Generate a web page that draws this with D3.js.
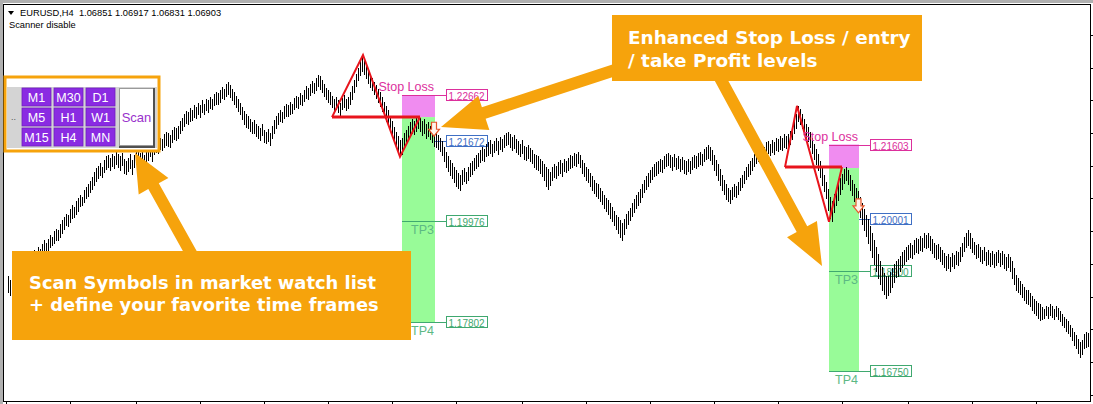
<!DOCTYPE html>
<html><head><meta charset="utf-8">
<script src="https://cdn.jsdelivr.net/npm/d3@7"></script>
<style>body{margin:0;background:#fff}svg{display:block}text{white-space:pre}</style>
</head><body><svg id="c" width="1093" height="404"></svg>
<script>
// ---- DATA ----
const symbolInfo = "EURUSD,H4  1.06851 1.06917 1.06831 1.06903";
const statusText = "Scanner disable";
// H4 bars: [high, low]
const bars = [
[1.1878,1.1845],[1.1870,1.1838],[1.1885,1.1850],[1.1892,1.1862],[1.1890,1.1866],
[1.1898,1.1870],[1.1905,1.1876],[1.1900,1.1872],[1.1912,1.1884],[1.1918,1.1890],
[1.1922,1.1895],[1.1930,1.1902],[1.1926,1.1898],[1.1935,1.1908],[1.1932,1.1910],
[1.1940,1.1915],[1.1936,1.1912],[1.1948,1.1920],[1.1955,1.1928],[1.1950,1.1930],
[1.1958,1.1934],[1.1966,1.1940],[1.1962,1.1945],[1.1975,1.1950],[1.1980,1.1956],
[1.1978,1.1955],[1.1990,1.1962],[1.1998,1.1970],[1.2005,1.1980],[1.2012,1.1988],
[1.2010,1.1985],[1.2022,1.1995],[1.2030,1.2002],[1.2026,1.2006],[1.2040,1.2012],
[1.2045,1.2018],[1.2052,1.2028],[1.2048,1.2030],[1.2062,1.2038],[1.2070,1.2045],
[1.2075,1.2050],[1.2082,1.2058],[1.2090,1.2066],[1.2102,1.2074],[1.2110,1.2082],
[1.2115,1.2088],[1.2120,1.2095],[1.2112,1.2090],[1.2128,1.2102],[1.2135,1.2108],
[1.2138,1.2112],[1.2132,1.2106],[1.2140,1.2115],[1.2135,1.2110],[1.2145,1.2118],
[1.2140,1.2112],[1.2135,1.2105],[1.2142,1.2116],[1.2130,1.2100],[1.2125,1.2098],
[1.2132,1.2104],[1.2140,1.2110],[1.2128,1.2098],[1.2138,1.2112],[1.2145,1.2118],
[1.2148,1.2120],[1.2142,1.2115],[1.2150,1.2122],[1.2138,1.2110],[1.2152,1.2126],
[1.2155,1.2128],[1.2160,1.2135],[1.2150,1.2126],[1.2165,1.2140],[1.2170,1.2145],
[1.2168,1.2142],[1.2175,1.2150],[1.2172,1.2148],[1.2182,1.2156],[1.2188,1.2160],
[1.2185,1.2158],[1.2180,1.2155],[1.2192,1.2166],[1.2198,1.2172],[1.2195,1.2170],
[1.2200,1.2175],[1.2210,1.2184],[1.2218,1.2192],[1.2225,1.2200],[1.2232,1.2206],
[1.2230,1.2205],[1.2238,1.2210],[1.2235,1.2212],[1.2245,1.2220],[1.2240,1.2218],
[1.2250,1.2225],[1.2245,1.2220],[1.2255,1.2230],[1.2248,1.2226],[1.2258,1.2234],
[1.2255,1.2230],[1.2262,1.2238],[1.2258,1.2236],[1.2268,1.2244],[1.2272,1.2248],
[1.2270,1.2246],[1.2278,1.2252],[1.2284,1.2260],[1.2280,1.2258],[1.2290,1.2265],
[1.2295,1.2268],[1.2288,1.2262],[1.2280,1.2255],[1.2272,1.2248],[1.2265,1.2240],
[1.2258,1.2232],[1.2250,1.2225],[1.2240,1.2215],[1.2232,1.2205],[1.2225,1.2198],
[1.2222,1.2196],[1.2215,1.2190],[1.2208,1.2184],[1.2212,1.2186],[1.2205,1.2178],
[1.2200,1.2175],[1.2195,1.2170],[1.2205,1.2180],[1.2192,1.2166],[1.2188,1.2164],
[1.2194,1.2168],[1.2185,1.2160],[1.2200,1.2175],[1.2212,1.2186],[1.2222,1.2196],
[1.2228,1.2205],[1.2235,1.2210],[1.2230,1.2208],[1.2242,1.2216],[1.2248,1.2222],
[1.2245,1.2222],[1.2252,1.2226],[1.2248,1.2228],[1.2260,1.2236],[1.2265,1.2240],
[1.2262,1.2238],[1.2270,1.2246],[1.2266,1.2244],[1.2278,1.2254],[1.2285,1.2260],
[1.2282,1.2258],[1.2290,1.2266],[1.2296,1.2272],[1.2292,1.2270],[1.2302,1.2278],
[1.2310,1.2286],[1.2306,1.2280],[1.2298,1.2272],[1.2290,1.2265],[1.2282,1.2258],
[1.2278,1.2252],[1.2272,1.2248],[1.2265,1.2240],[1.2258,1.2232],[1.2262,1.2236],
[1.2255,1.2230],[1.2250,1.2222],[1.2260,1.2236],[1.2266,1.2240],[1.2258,1.2234],
[1.2262,1.2238],[1.2272,1.2248],[1.2285,1.2258],[1.2298,1.2272],[1.2312,1.2285],
[1.2325,1.2298],[1.2338,1.2310],[1.2348,1.2318],[1.2340,1.2312],[1.2330,1.2302],
[1.2320,1.2292],[1.2310,1.2284],[1.2302,1.2276],[1.2295,1.2268],[1.2288,1.2260],
[1.2280,1.2252],[1.2272,1.2242],[1.2262,1.2232],[1.2252,1.2220],[1.2242,1.2210],
[1.2235,1.2202],[1.2222,1.2190],[1.2210,1.2178],[1.2198,1.2165],[1.2188,1.2155],
[1.2178,1.2145],[1.2170,1.2136],[1.2175,1.2140],[1.2185,1.2155],[1.2192,1.2162],
[1.2200,1.2170],[1.2208,1.2178],[1.2215,1.2186],[1.2210,1.2182],[1.2220,1.2190],
[1.2222,1.2195],[1.2218,1.2190],[1.2210,1.2180],[1.2215,1.2186],[1.2205,1.2175],
[1.2208,1.2178],[1.2200,1.2172],[1.2195,1.2165],[1.2188,1.2158],[1.2185,1.2155],
[1.2180,1.2150],[1.2175,1.2146],[1.2168,1.2138],[1.2155,1.2125],[1.2145,1.2112],
[1.2135,1.2104],[1.2128,1.2096],[1.2120,1.2088],[1.2112,1.2080],[1.2105,1.2072],
[1.2100,1.2068],[1.2095,1.2064],[1.2105,1.2076],[1.2110,1.2082],[1.2102,1.2078],
[1.2112,1.2085],[1.2120,1.2092],[1.2125,1.2098],[1.2132,1.2105],[1.2138,1.2110],
[1.2142,1.2115],[1.2148,1.2122],[1.2155,1.2128],[1.2150,1.2126],[1.2162,1.2135],
[1.2165,1.2138],[1.2170,1.2142],[1.2162,1.2136],[1.2168,1.2145],[1.2175,1.2148],
[1.2168,1.2140],[1.2176,1.2150],[1.2172,1.2146],[1.2180,1.2155],[1.2185,1.2160],
[1.2188,1.2162],[1.2182,1.2155],[1.2176,1.2148],[1.2180,1.2152],[1.2172,1.2145],
[1.2168,1.2140],[1.2162,1.2136],[1.2170,1.2142],[1.2158,1.2130],[1.2155,1.2128],
[1.2160,1.2132],[1.2152,1.2125],[1.2148,1.2120],[1.2140,1.2112],[1.2138,1.2108],
[1.2135,1.2106],[1.2130,1.2100],[1.2125,1.2094],[1.2118,1.2085],[1.2112,1.2072],
[1.2108,1.2065],[1.2102,1.2074],[1.2112,1.2085],[1.2118,1.2090],[1.2115,1.2088],
[1.2122,1.2095],[1.2128,1.2100],[1.2120,1.2094],[1.2130,1.2104],[1.2126,1.2102],
[1.2132,1.2106],[1.2138,1.2110],[1.2135,1.2112],[1.2142,1.2116],[1.2140,1.2115],
[1.2145,1.2120],[1.2138,1.2112],[1.2128,1.2100],[1.2120,1.2092],[1.2112,1.2085],
[1.2108,1.2080],[1.2100,1.2072],[1.2092,1.2064],[1.2085,1.2056],[1.2078,1.2050],
[1.2075,1.2046],[1.2068,1.2040],[1.2060,1.2032],[1.2052,1.2024],[1.2046,1.2018],
[1.2042,1.2012],[1.2035,1.2004],[1.2026,1.1996],[1.2018,1.1988],[1.2010,1.1980],
[1.2005,1.1972],[1.1998,1.1962],[1.1992,1.1956],[1.2000,1.1968],[1.2012,1.1982],
[1.2018,1.1990],[1.2025,1.1998],[1.2035,1.2008],[1.2044,1.2016],[1.2052,1.2025],
[1.2058,1.2030],[1.2066,1.2038],[1.2075,1.2048],[1.2085,1.2058],[1.2094,1.2066],
[1.2100,1.2072],[1.2106,1.2080],[1.2112,1.2086],[1.2118,1.2092],[1.2122,1.2096],
[1.2125,1.2100],[1.2130,1.2104],[1.2128,1.2102],[1.2136,1.2110],[1.2140,1.2115],
[1.2142,1.2116],[1.2138,1.2112],[1.2134,1.2106],[1.2140,1.2114],[1.2132,1.2108],
[1.2136,1.2110],[1.2130,1.2104],[1.2134,1.2108],[1.2128,1.2100],[1.2124,1.2098],
[1.2130,1.2104],[1.2126,1.2100],[1.2134,1.2108],[1.2138,1.2112],[1.2135,1.2110],
[1.2142,1.2115],[1.2145,1.2118],[1.2140,1.2116],[1.2150,1.2124],[1.2155,1.2130],
[1.2160,1.2132],[1.2156,1.2128],[1.2148,1.2118],[1.2138,1.2106],[1.2128,1.2095],
[1.2118,1.2085],[1.2108,1.2074],[1.2096,1.2064],[1.2085,1.2054],[1.2075,1.2044],
[1.2068,1.2040],[1.2062,1.2036],[1.2070,1.2044],[1.2076,1.2050],[1.2072,1.2048],
[1.2080,1.2055],[1.2088,1.2062],[1.2096,1.2070],[1.2104,1.2078],[1.2112,1.2086],
[1.2118,1.2092],[1.2124,1.2098],[1.2132,1.2106],[1.2140,1.2114],[1.2146,1.2120],
[1.2150,1.2125],[1.2156,1.2130],[1.2160,1.2134],[1.2155,1.2132],[1.2165,1.2140],
[1.2168,1.2142],[1.2162,1.2138],[1.2170,1.2145],[1.2166,1.2140],[1.2174,1.2148],
[1.2172,1.2146],[1.2178,1.2150],[1.2175,1.2148],[1.2182,1.2155],[1.2178,1.2152],
[1.2182,1.2156],[1.2190,1.2162],[1.2200,1.2172],[1.2212,1.2185],[1.2225,1.2196],
[1.2243,1.2210],[1.2236,1.2205],[1.2225,1.2195],[1.2215,1.2185],[1.2205,1.2175],
[1.2198,1.2168],[1.2188,1.2156],[1.2175,1.2142],[1.2162,1.2130],[1.2150,1.2118],
[1.2140,1.2105],[1.2125,1.2090],[1.2110,1.2074],[1.2095,1.2060],[1.2080,1.2045],
[1.2065,1.2020],[1.2048,1.2002],[1.2040,1.1996],[1.2055,1.2015],[1.2068,1.2030],
[1.2078,1.2042],[1.2088,1.2055],[1.2098,1.2066],[1.2108,1.2078],[1.2112,1.2085],
[1.2105,1.2075],[1.2095,1.2064],[1.2085,1.2052],[1.2075,1.2040],[1.2068,1.2030],
[1.2060,1.2018],[1.2048,1.2005],[1.2035,1.1990],[1.2022,1.1978],[1.2010,1.1965],
[1.2000,1.1950],[1.1985,1.1935],[1.1970,1.1920],[1.1955,1.1905],[1.1940,1.1890],
[1.1925,1.1875],[1.1910,1.1862],[1.1898,1.1850],[1.1885,1.1840],[1.1878,1.1832],
[1.1880,1.1838],[1.1888,1.1845],[1.1895,1.1855],[1.1905,1.1866],[1.1912,1.1876],
[1.1915,1.1880],[1.1922,1.1890],[1.1930,1.1898],[1.1935,1.1905],[1.1940,1.1912],
[1.1945,1.1915],[1.1950,1.1920],[1.1946,1.1918],[1.1955,1.1925],[1.1960,1.1930],
[1.1958,1.1928],[1.1964,1.1934],[1.1960,1.1932],[1.1970,1.1940],[1.1966,1.1938],
[1.1972,1.1942],[1.1965,1.1935],[1.1958,1.1928],[1.1950,1.1920],[1.1945,1.1915],
[1.1948,1.1918],[1.1940,1.1910],[1.1935,1.1905],[1.1928,1.1898],[1.1922,1.1892],
[1.1925,1.1895],[1.1920,1.1890],[1.1928,1.1900],[1.1924,1.1896],[1.1932,1.1904],
[1.1930,1.1902],[1.1940,1.1912],[1.1950,1.1922],[1.1962,1.1932],[1.1972,1.1942],
[1.1978,1.1945],[1.1970,1.1938],[1.1960,1.1930],[1.1952,1.1925],[1.1945,1.1918],
[1.1948,1.1920],[1.1940,1.1912],[1.1935,1.1906],[1.1942,1.1914],[1.1930,1.1902],
[1.1935,1.1905],[1.1928,1.1900],[1.1932,1.1904],[1.1925,1.1898],[1.1930,1.1902],
[1.1935,1.1908],[1.1928,1.1900],[1.1932,1.1905],[1.1925,1.1896],[1.1920,1.1892],
[1.1926,1.1898],[1.1920,1.1890],[1.1910,1.1875],[1.1895,1.1862],[1.1882,1.1850],
[1.1875,1.1845],[1.1868,1.1840],[1.1862,1.1835],[1.1856,1.1828],[1.1850,1.1822],
[1.1848,1.1820],[1.1842,1.1815],[1.1836,1.1806],[1.1830,1.1800],[1.1825,1.1795],
[1.1822,1.1790],[1.1818,1.1785],[1.1812,1.1788],[1.1808,1.1790],[1.1815,1.1795],
[1.1812,1.1790],[1.1818,1.1796],[1.1814,1.1792],[1.1808,1.1786],[1.1815,1.1794],
[1.1810,1.1788],[1.1804,1.1782],[1.1798,1.1775],[1.1792,1.1770],[1.1786,1.1762],
[1.1782,1.1758],[1.1775,1.1750],[1.1768,1.1742],[1.1760,1.1732],[1.1752,1.1725],
[1.1745,1.1715],[1.1738,1.1705],[1.1742,1.1712],[1.1755,1.1725],[1.1760,1.1728],
[1.1758,1.1730]
];
// pattern zigzags: [bar index, price]
const zigzagA = [[162,1.2219],[177.5,1.2352],[196,1.2134],[206,1.2219]];
const zigzagB = [[388.5,1.2112],[394.5,1.2243],[410.5,1.1995],[417,1.2112]];
// trade setups
const setupStart = [197, 410.5];
const setupEnd   = [213.5, 425.5];
const stopLevels  = [1.22662, 1.21603];
const necklines   = [1.2219, 1.2110];
const entryLevels = [1.21672, 1.20001];
const tp3Levels   = [1.19976, 1.18900];
const tp4Levels   = [1.17802, 1.16750];
const signalIdx   = [213, 425.25];
const signalPrice = [1.2208, 1.2044];
// axis ticks (no labels visible)
const priceTicks = [1.2395,1.2325,1.2255,1.2185,1.2115,1.2045,1.1975,1.1905,1.1835,1.1765,1.1695,1.1625];
const timeTicks = [-1,31,64,96,128,160,192,224,257,289,321,353,385,417,450,482,514];
// scanner panel
const tfRows = [["M1","M30","D1"],["M5","H1","W1"],["M15","H4","MN"]];
const scanLabel = "Scan";
const calloutScan = ["Scan Symbols in market watch list","+ define your favorite time frames"];
const calloutLevels = ["Enhanced Stop Loss / entry","/ take Profit levels"];

// ---- DRAW ----
const svg = d3.select("#c");
const x = d3.scaleLinear().domain([0, 540]).range([8, 1088]);
const y = d3.scaleLinear().domain([1.16136, 1.2461]).range([400, 4]);
const fmt = d3.format(".5f");
const ORANGE = "#f6a30c";
const C_SL = "#dc2f9c", C_EN = "#3f6fc4", C_TP = "#3fa86f", C_TPT = "#5cb884";

svg.append("rect").attr("width",1093).attr("height",404).attr("fill","#fff");

// zones
const zones = svg.append("g");
setupStart.forEach((s,i)=>{
  const x0 = x(s), x1 = x(setupEnd[i]);
  zones.append("rect").attr("x",x0).attr("y",y(stopLevels[i])).attr("width",x1-x0)
    .attr("height",y(necklines[i])-y(stopLevels[i])).attr("fill","#f08cf0");
  zones.append("rect").attr("x",x0).attr("y",y(necklines[i])).attr("width",x1-x0)
    .attr("height",y(tp4Levels[i])-y(necklines[i])).attr("fill","#98fb98");
  const lx = x1 + 11;
  const levels = [
    {p:stopLevels[i], c:C_SL, from:x0},
    {p:entryLevels[i], c:C_EN, from:x1},
    {p:tp3Levels[i], c:C_TP, from:x0},
    {p:tp4Levels[i], c:C_TP, from:x0}
  ];
  levels.forEach(l=>{
    const yy = Math.round(y(l.p))+0.5;
    zones.append("line").attr("x1",l.from).attr("x2",lx).attr("y1",yy).attr("y2",yy)
      .attr("stroke",l.c).attr("stroke-width",1);
    zones.append("rect").attr("x",lx+0.5).attr("y",yy-6).attr("width",41).attr("height",11)
      .attr("fill","none").attr("stroke",l.c).attr("stroke-width",1);
    zones.append("text").attr("x",lx+2.5).attr("y",yy+4).attr("font-family","Liberation Sans, Arial")
      .attr("font-size",10).attr("fill",l.c).text(fmt(l.p));
  });
});

// bars
svg.append("g").selectAll("line").data(bars).join("line")
  .attr("x1",(d,i)=>Math.round(x(i))+0.5).attr("x2",(d,i)=>Math.round(x(i))+0.5)
  .attr("y1",d=>Math.round(y(d[0]))).attr("y2",d=>Math.round(y(d[1]))+1)
  .attr("stroke","#000").attr("stroke-width",1).attr("shape-rendering","crispEdges");

// zigzags
[zigzagA, zigzagB].forEach(z=>{
  const line = d3.line().x(d=>x(d[0])).y(d=>y(d[1]));
  svg.append("path").attr("d",line(z)).attr("fill","none").attr("stroke","#e8141c").attr("stroke-width",2);
  svg.append("path").attr("d",line([z[0],z[3]])).attr("fill","none").attr("stroke","#e8141c").attr("stroke-width",3);
});

// signal arrows + texts
setupStart.forEach((s,i)=>{
  const cx = x(signalIdx[i]), ty = y(signalPrice[i]);
  svg.append("path").attr("d",`M${cx-2.5},${ty}L${cx+2.5},${ty}L${cx+2.5},${ty+7}L${cx+5.5},${ty+7}L${cx},${ty+14}L${cx-5.5},${ty+7}L${cx-2.5},${ty+7}Z`)
    .attr("fill","#fff4ec").attr("stroke","#e5552b").attr("stroke-width",1.2);
  const xe = x(setupEnd[i]) - 1;
  svg.append("text").attr("x",xe).attr("y",y(stopLevels[i])-4).attr("text-anchor","end")
    .attr("font-family","Liberation Sans, Arial").attr("font-size",12.5).attr("fill",C_SL).text("Stop Loss");
  svg.append("text").attr("x",xe).attr("y",y(tp3Levels[i])+13).attr("text-anchor","end")
    .attr("font-family","Liberation Sans, Arial").attr("font-size",12.5).attr("fill",C_TPT).text("TP3");
  svg.append("text").attr("x",xe).attr("y",y(tp4Levels[i])+13).attr("text-anchor","end")
    .attr("font-family","Liberation Sans, Arial").attr("font-size",12.5).attr("fill",C_TPT).text("TP4");
});

// frame
svg.append("rect").attr("x",0).attr("y",0).attr("width",1093).attr("height",3).attr("fill","#b0b0b0");
svg.append("rect").attr("x",0).attr("y",0).attr("width",3).attr("height",404).attr("fill","#b0b0b0");
svg.append("rect").attr("x",3.5).attr("y",4.5).attr("width",1087).attr("height",396.5)
  .attr("fill","none").attr("stroke","#000").attr("stroke-width",1).attr("shape-rendering","crispEdges");
const ya = svg.append("g").attr("transform","translate(1091,0)")
  .call(d3.axisRight(y).tickValues(priceTicks).tickSize(3).tickFormat(""));
ya.select(".domain").remove();
ya.selectAll("line").attr("shape-rendering","crispEdges");
const xa = svg.append("g").attr("transform","translate(0,401)")
  .call(d3.axisBottom(x).tickValues(timeTicks).tickSize(3).tickFormat(""));
xa.select(".domain").remove();
xa.selectAll("line").attr("shape-rendering","crispEdges");

// header
svg.append("path").attr("d","M8,11L14,11L11,15Z").attr("fill","#000");
svg.append("text").attr("x",20).attr("y",16).attr("font-family","Liberation Sans, Arial")
  .attr("font-size",9.3).attr("fill","#000").text(symbolInfo);
svg.append("text").attr("x",9).attr("y",28).attr("font-family","Liberation Sans, Arial")
  .attr("font-size",9.3).attr("fill","#000").text(statusText);

// scanner panel
const pnl = svg.append("g");
pnl.append("rect").attr("x",5).attr("y",77).attr("width",154).attr("height",74)
  .attr("fill","#fff").attr("stroke",ORANGE).attr("stroke-width",3);
pnl.append("rect").attr("x",7).attr("y",87).attr("width",150).attr("height",61).attr("fill","#d4d4d4");
pnl.append("text").attr("x",11).attr("y",120).attr("font-family","Liberation Sans, Arial")
  .attr("font-size",9).attr("fill","#555").text("..");
tfRows.forEach((row,r)=>row.forEach((lab,c)=>{
  const bx = 22 + c*32, by = 88 + r*20;
  pnl.append("rect").attr("x",bx).attr("y",by).attr("width",29).attr("height",18)
    .attr("fill","#8a2be2").attr("stroke","#7020c0").attr("stroke-width",0.8);
  pnl.append("text").attr("x",bx+14.5).attr("y",by+13.5).attr("text-anchor","middle")
    .attr("font-family","Liberation Sans, Arial").attr("font-size",12.5).attr("fill","#fff").text(lab);
}));
pnl.append("rect").attr("x",119.5).attr("y",88.5).attr("width",34).attr("height",57)
  .attr("fill","#fff").attr("stroke","#9a9a9a").attr("stroke-width",1);
pnl.append("path").attr("d","M154,88L154,147L119,147").attr("fill","none").attr("stroke","#505050").attr("stroke-width",2);
pnl.append("text").attr("x",136.5).attr("y",122).attr("text-anchor","middle")
  .attr("font-family","Liberation Sans, Arial").attr("font-size",13).attr("fill","#9932cc").text(scanLabel);

// callout arrows
function bigArrow(T,P,hl,hw,s){
  const dx=P[0]-T[0], dy=P[1]-T[1], L=Math.hypot(dx,dy), ux=dx/L, uy=dy/L, nx=-uy, ny=ux;
  const B=[P[0]-ux*hl, P[1]-uy*hl];
  const pts=[[T[0]+nx*s,T[1]+ny*s],[B[0]+nx*s,B[1]+ny*s],[B[0]+nx*hw,B[1]+ny*hw],P,
             [B[0]-nx*hw,B[1]-ny*hw],[B[0]-nx*s,B[1]-ny*s],[T[0]-nx*s,T[1]-ny*s]];
  svg.append("polygon").attr("points",pts.map(p=>p.join(",")).join(" ")).attr("fill",ORANGE);
}
bigArrow([615,70],[441,127],45,18,6);
bigArrow([720,78],[822,266],42,17,6);
bigArrow([192,255],[135,153],38,17,6);

// callout boxes
function callout(x0,y0,w,h,lines,tx,ty,lh,fs){
  svg.append("rect").attr("x",x0).attr("y",y0).attr("width",w).attr("height",h).attr("fill",ORANGE);
  lines.forEach((t,i)=>svg.append("text").attr("x",tx).attr("y",ty+i*lh)
    .attr("font-family","DejaVu Sans, Verdana").attr("font-weight","bold").attr("font-size",fs)
    .attr("fill","#fff").text(t));
}
callout(12,251,399,89,calloutScan,29,289,22,17.9);
callout(612,15,310,66,calloutLevels,628,44,23,18.4);
</script>
</body></html>
